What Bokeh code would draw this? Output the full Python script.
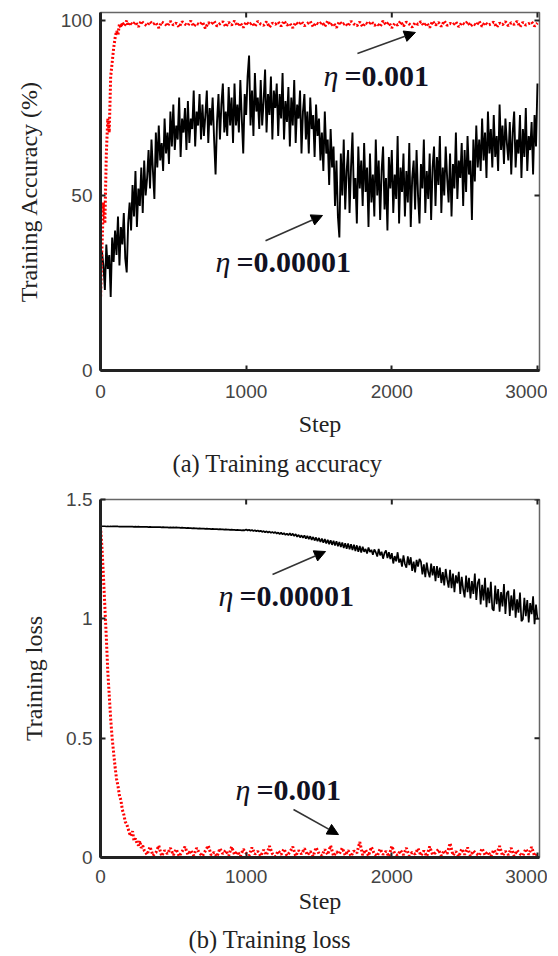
import math
from bokeh.plotting import figure
from bokeh.layouts import column
from bokeh.models import Range1d, FixedTicker, Title, Arrow, NormalHead, ColumnDataSource
from bokeh.core.properties import value
from bokeh.embed import file_html
from bokeh.resources import INLINE

# ---------------- data ----------------
x_ticks = [0, 1000, 2000, 3000]
acc_ticks = [0, 50, 100]
loss_ticks = [0, 0.5, 1, 1.5]
loss_tick_labels = ["0", "0.5", "1", "1.5"]

steps = list(range(0, 3001, 10))

# training accuracy, eta = 0.00001 (every 10 steps)
acc_slow = [
    27, 34, 30, 23, 36, 29, 33, 21, 38, 31,
    40, 33, 44, 30, 41, 36, 45, 32, 28, 42,
    48, 40, 53, 44, 57, 41, 52, 47, 58, 45,
    60, 50, 55, 63, 52, 66, 57, 49, 68, 58,
    70, 60, 65, 57, 72, 62, 68, 59, 74, 64,
    76, 63, 70, 66, 78, 61, 72, 68, 75, 63,
    77, 65, 72, 69, 80, 64, 74, 70, 79, 66,
    76, 67, 73, 80, 65, 75, 70, 78, 66, 56,
    71, 79, 66, 76, 82, 68, 74, 67, 81, 70,
    78, 65, 82, 70, 76, 68, 83, 72, 62, 79,
    73, 84, 90, 70, 80, 67, 85, 74, 78, 69,
    83, 70, 77, 86, 68, 79, 73, 84, 66, 80,
    75, 82, 67, 79, 72, 85, 66, 77, 71, 81,
    64, 78, 70, 83, 65, 76, 72, 80, 62, 74,
    79, 66, 74, 62, 78, 69, 73, 61, 76, 67,
    72, 60, 68, 57, 74, 62, 66, 53, 69, 58,
    64, 47, 60, 44, 38, 62, 50, 66, 46, 57,
    63, 45, 58, 68, 49, 55, 42, 64, 52, 60,
    47, 65, 51, 58, 41, 62, 48, 56, 44, 66,
    50, 60, 43, 57, 64, 46, 55, 40, 61, 52,
    63, 45, 56, 49, 67, 42, 58, 51, 62, 44,
    57, 48, 65, 41, 55, 60, 46, 63, 50, 42,
    59, 52, 66, 45, 57, 49, 62, 43, 58, 64,
    47, 61, 53, 67, 45, 58, 50, 64, 55, 48,
    62, 44, 59, 52, 68, 49, 60, 55, 65, 47,
    63, 51, 67, 56, 60, 43, 66, 54, 70, 58,
    66, 57, 72, 60, 68, 55, 74, 62, 69, 58,
    73, 61, 67, 57, 76, 63, 70, 59, 72, 65,
    60, 71, 56, 68, 74, 58, 66, 62, 73, 55,
    69, 61, 75, 57, 67, 63, 71, 56, 73, 64,
    82,
]

# training accuracy, eta = 0.001
acc_fast_steps = list(range(0, 200, 10)) + list(range(200, 3001, 20))
acc_fast = [
    20, 35, 48, 42, 62, 72, 68, 84, 88, 92,
    95, 97, 96, 99, 98, 99.5, 98.5, 99, 100, 98.5,
    99.5, 98.8, 99.6, 98.2, 99.9, 99.0, 98.5, 99.7, 98.9, 99.4,
    97.9, 99.6, 99.1, 98.4, 99.8, 98.7, 99.3, 98.1, 99.7, 99.0,
    98.6, 99.9, 98.3, 99.2, 98.8, 99.6, 97.8, 99.4, 98.9, 99.8,
    98.4, 99.1, 99.7, 98.2, 99.5, 98.7, 99.9, 98.5, 99.3, 98.0,
    99.6, 98.8, 99.4, 98.3, 99.8, 99.0, 98.6, 99.7, 98.1, 99.3,
    98.9, 99.6, 98.4, 99.9, 98.7, 99.2, 97.9, 99.5, 98.8, 99.7,
    98.5, 99.1, 99.8, 98.2, 99.4, 98.9, 99.6, 98.3, 99.9, 98.6,
    99.2, 98.0, 99.7, 98.8, 99.3, 98.4, 99.8, 99.0, 98.5, 99.6,
    98.2, 99.4, 98.9, 99.7, 98.6, 99.1, 98.3, 99.9, 98.8, 99.5,
    97.9, 99.2, 98.7, 99.8, 98.4, 99.6, 99.0, 98.1, 99.4, 98.9,
    99.7, 98.5, 99.3, 98.0, 99.8, 98.7, 99.5, 98.3, 99.9, 98.6,
    99.2, 98.8, 99.6, 98.2, 99.4, 98.9, 99.7, 98.4, 99.1, 98.6,
    99.8, 98.3, 99.5, 98.7, 99.0, 99.6, 98.1, 99.3, 98.8, 99.7,
    98.5, 99.4, 98.9, 99.8, 98.2, 99.5, 98.7, 99.1, 99.6, 98.4,
    99.3,
]

# training loss, eta = 0.00001 (every 10 steps)
loss_slow = [
    1.388, 1.388, 1.388, 1.388, 1.387, 1.388, 1.387, 1.388, 1.387, 1.387,
    1.387, 1.387, 1.387, 1.386, 1.387, 1.386, 1.387, 1.386, 1.386, 1.386,
    1.386, 1.386, 1.386, 1.385, 1.386, 1.385, 1.386, 1.385, 1.385, 1.385,
    1.385, 1.385, 1.385, 1.384, 1.385, 1.384, 1.384, 1.384, 1.384, 1.384,
    1.384, 1.384, 1.383, 1.384, 1.383, 1.383, 1.383, 1.382, 1.383, 1.382,
    1.383, 1.382, 1.383, 1.382, 1.382, 1.381, 1.382, 1.381, 1.381, 1.380,
    1.381, 1.380, 1.380, 1.379, 1.380, 1.379, 1.379, 1.378, 1.379, 1.378,
    1.378, 1.378, 1.377, 1.378, 1.377, 1.377, 1.376, 1.377, 1.376, 1.376,
    1.376, 1.375, 1.376, 1.375, 1.375, 1.374, 1.375, 1.374, 1.374, 1.373,
    1.374, 1.373, 1.373, 1.372, 1.373, 1.372, 1.372, 1.371, 1.372, 1.371,
    1.374, 1.370, 1.373, 1.369, 1.372, 1.368, 1.371, 1.367, 1.370, 1.366,
    1.369, 1.364, 1.368, 1.362, 1.367, 1.361, 1.366, 1.360, 1.364, 1.359,
    1.364, 1.357, 1.362, 1.355, 1.361, 1.354, 1.359, 1.352, 1.357, 1.350,
    1.359, 1.349, 1.357, 1.347, 1.355, 1.344, 1.352, 1.341, 1.350, 1.339,
    1.350, 1.336, 1.348, 1.334, 1.346, 1.331, 1.343, 1.328, 1.341, 1.325,
    1.339, 1.322, 1.336, 1.319, 1.334, 1.316, 1.331, 1.313, 1.329, 1.310,
    1.327, 1.307, 1.325, 1.304, 1.322, 1.301, 1.320, 1.297, 1.317, 1.294,
    1.316, 1.291, 1.313, 1.288, 1.311, 1.284, 1.308, 1.281, 1.305, 1.278,
    1.302, 1.281, 1.293, 1.274, 1.299, 1.280, 1.289, 1.268, 1.291, 1.279,
    1.261, 1.293, 1.266, 1.281, 1.252, 1.276, 1.287, 1.255, 1.279, 1.250,
    1.275, 1.232, 1.263, 1.241, 1.279, 1.236, 1.252, 1.219, 1.266, 1.230,
    1.214, 1.262, 1.225, 1.258, 1.201, 1.240, 1.195, 1.247, 1.219, 1.251,
    1.240, 1.186, 1.228, 1.175, 1.236, 1.196, 1.174, 1.231, 1.182, 1.221,
    1.158, 1.221, 1.172, 1.215, 1.150, 1.196, 1.140, 1.209, 1.164, 1.131,
    1.205, 1.128, 1.190, 1.112, 1.182, 1.149, 1.197, 1.104, 1.176, 1.124,
    1.090, 1.181, 1.112, 1.172, 1.085, 1.158, 1.104, 1.190, 1.079, 1.150,
    1.168, 1.060, 1.143, 1.077, 1.172, 1.049, 1.131, 1.066, 1.155, 1.042,
    1.034, 1.139, 1.061, 1.125, 1.030, 1.112, 1.052, 1.146, 1.020, 1.108,
    1.117, 1.012, 1.098, 1.035, 1.124, 1.005, 1.082, 1.026, 1.110, 0.990,
    0.998, 1.088, 1.011, 1.079, 0.985, 1.066, 1.020, 1.094, 0.978, 1.060,
    1.000,
]

# training loss, eta = 0.001
loss_fast_steps = list(range(0, 300, 10)) + list(range(300, 3001, 20))
loss_fast = [
    1.385, 1.30, 1.18, 1.05, 0.92, 0.78, 0.68, 0.58, 0.50, 0.44,
    0.38, 0.33, 0.30, 0.26, 0.24, 0.20, 0.18, 0.15, 0.14, 0.12,
    0.10, 0.09, 0.11, 0.07, 0.08, 0.06, 0.05, 0.07, 0.04, 0.05,
    0.03, 0.012, 0.045, 0.008, 0.02, 0.05, 0.006, 0.03, 0.015, 0.04,
    0.01, 0.035, 0.005, 0.025, 0.045, 0.012, 0.03, 0.008, 0.04, 0.018,
    0.006, 0.028, 0.05, 0.01, 0.022, 0.004, 0.038, 0.015, 0.03, 0.007,
    0.045, 0.012, 0.025, 0.005, 0.035, 0.018, 0.008, 0.042, 0.014, 0.026,
    0.006, 0.032, 0.01, 0.048, 0.016, 0.004, 0.028, 0.012, 0.036, 0.008,
    0.022, 0.045, 0.006, 0.03, 0.014, 0.038, 0.01, 0.026, 0.005, 0.042,
    0.016, 0.008, 0.034, 0.012, 0.05, 0.006, 0.024, 0.015, 0.04, 0.009,
    0.03, 0.005, 0.028, 0.018, 0.065, 0.01, 0.032, 0.007, 0.044, 0.014,
    0.006, 0.036, 0.012, 0.026, 0.004, 0.048, 0.016, 0.009, 0.03, 0.011,
    0.04, 0.006, 0.022, 0.014, 0.038, 0.008, 0.028, 0.005, 0.046, 0.012,
    0.02, 0.034, 0.007, 0.03, 0.015, 0.06, 0.009, 0.025, 0.004, 0.036,
    0.012, 0.042, 0.006, 0.028, 0.016, 0.008, 0.038, 0.01, 0.024, 0.005,
    0.032, 0.014, 0.048, 0.007, 0.026, 0.011, 0.04, 0.006, 0.03, 0.015,
    0.008, 0.036, 0.012, 0.044, 0.006, 0.022,
]

# annotations: label anchor (left, middle) and arrows, in data units
acc_labels = ["=0.001", "=0.00001"]
acc_label_x = [1531, 789]
acc_label_y = [84.3, 31.1]
acc_arrows = [(1764, 90.6, 2162, 96.6), (1133, 37.1, 1524, 44.3)]

loss_labels = ["=0.00001", "=0.001"]
loss_label_x = [810, 927]
loss_label_y = [1.098, 0.285]
loss_arrows = [(1181, 1.186, 1545, 1.282), (1325, 0.201, 1634, 0.096)]

SERIF = "Liberation Serif"
SANS = "Liberation Sans"
X_END = 3014


def make_fig(y_end, yticks, ylabel, caption, min_top, min_bottom,
             tick_standoff, label_standoff, cap_standoff, cap_offset, overrides=None):
    p = figure(frame_width=439, frame_height=358,
               min_border_left=100, min_border_right=8,
               min_border_top=min_top, min_border_bottom=min_bottom,
               x_range=Range1d(0, X_END), y_range=Range1d(0, y_end),
               output_backend="svg", toolbar_location=None, tools="")
    p.xgrid.visible = False
    p.ygrid.visible = False
    p.outline_line_color = "#666666"
    p.outline_line_width = 1.5
    p.background_fill_color = "white"
    p.border_fill_color = "white"

    p.xaxis.ticker = FixedTicker(ticks=x_ticks)
    p.yaxis.ticker = FixedTicker(ticks=yticks)
    if overrides:
        p.yaxis.major_label_overrides = overrides
    for ax in (p.xaxis[0], p.yaxis[0]):
        ax.axis_line_width = 3
        ax.axis_line_color = "#222222"
        ax.major_tick_in = 5
        ax.major_tick_out = 0
        ax.minor_tick_in = 0
        ax.minor_tick_out = 0
        ax.major_tick_line_color = "#222222"
        ax.major_tick_line_width = 2
        ax.major_label_text_font = SANS
        ax.major_label_text_font_size = "19px"
        ax.major_label_text_color = "#444444"
        ax.axis_label_text_font = SERIF
        ax.axis_label_text_font_size = "24px"
        ax.axis_label_text_font_style = "normal"
        ax.axis_label_text_color = "#222222"
    p.xaxis.axis_label = "Step"
    p.xaxis.major_label_standoff = tick_standoff
    p.xaxis.axis_label_standoff = label_standoff
    p.yaxis.axis_label = ylabel
    p.yaxis.major_label_standoff = 8
    p.yaxis.axis_label_standoff = 16

    # mirrored inward ticks on top and right edges (half of each dash is clipped by the frame)
    p.scatter(x_ticks, [y_end] * len(x_ticks), marker="dash", angle=math.pi / 2, size=10,
              line_color="#222222", line_width=2)
    p.scatter([X_END] * len(yticks), yticks, marker="dash", size=10,
              line_color="#222222", line_width=2)

    p.add_layout(Title(text=caption, align="left", offset=cap_offset, standoff=cap_standoff,
                       text_font=SERIF, text_font_size="24.5px", text_font_style="normal",
                       text_color="#222222"), "below")
    return p


def annotate(p, xs, ys, texts, arrows, size="30px"):
    src = ColumnDataSource(dict(x=xs, y=ys, t=texts, eta=["η"] * len(xs)))
    p.text(x="x", y="y", text="eta", source=src, text_font=value(SERIF),
           text_font_style="italic", text_font_size=size, text_baseline="middle",
           text_align="left", text_color="#111122")
    p.text(x="x", y="y", text="t", source=src, x_offset=21, text_font=value(SERIF),
           text_font_style="bold", text_font_size=size, text_baseline="middle",
           text_align="left", text_color="#111122")
    for (x0, y0, x1, y1) in arrows:
        p.add_layout(Arrow(end=NormalHead(size=11, fill_color="black", line_color="black",
                                          line_width=1),
                           x_start=x0, y_start=y0, x_end=x1, y_end=y1,
                           line_width=1.6, line_color="#333333"))


# ---------- (a) accuracy ----------
p1 = make_fig(102.3, acc_ticks, "Training Accuracy (%)", "(a) Training accuracy",
              min_top=12, min_bottom=111, tick_standoff=14, label_standoff=10,
              cap_standoff=17, cap_offset=72)
p1.line(steps, acc_slow, line_color="black", line_width=1.9)
p1.line(acc_fast_steps, acc_fast, line_color="#ff0000", line_width=3, line_dash="2 2")
annotate(p1, acc_label_x, acc_label_y, acc_labels, acc_arrows)

# ---------- (b) loss ----------
p2 = make_fig(1.5, loss_ticks, "Training loss", "(b) Training loss",
              min_top=14, min_bottom=95, tick_standoff=12, label_standoff=2,
              cap_standoff=14, cap_offset=88,
              overrides={t: l for t, l in zip(loss_ticks, loss_tick_labels)})
p2.line(steps, loss_slow, line_color="black", line_width=1.7)
p2.line(loss_fast_steps, loss_fast, line_color="#ff0000", line_width=3, line_dash="2 2")
annotate(p2, loss_label_x, loss_label_y, loss_labels, loss_arrows)

layout = column(p1, p2, spacing=0)
open("out.html", "w").write(file_html(layout, INLINE))
